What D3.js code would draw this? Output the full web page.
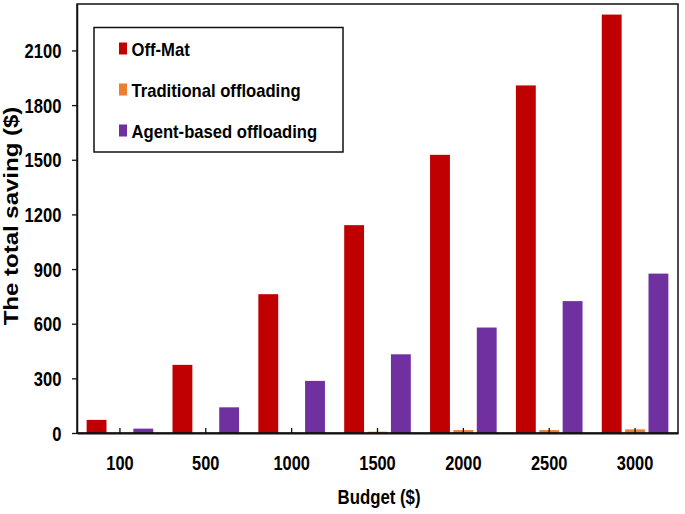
<!DOCTYPE html>
<html>
<head>
<meta charset="utf-8">
<script src="https://cdn.jsdelivr.net/npm/d3@7"></script>
<style>
  html, body { margin: 0; padding: 0; background: #fff; }
  svg text { font-family: "Liberation Sans", Arial, sans-serif; font-weight: bold; fill: #000; }
</style>
</head>
<body>
<svg id="chart" width="685" height="514"></svg>
<script>
// ---- data ----
const budgets = ["100", "500", "1000", "1500", "2000", "2500", "3000"];
const seriesNames = ["Off-Mat", "Traditional offloading", "Agent-based offloading"];
const offMat = [72, 374, 762, 1141, 1527, 1908, 2297];
const traditional = [0, 0, 0, 7, 16, 16, 20];
const agentBased = [24, 141, 286, 432, 579, 724, 875];
const yTicks = [0, 300, 600, 900, 1200, 1500, 1800, 2100];
const colors = ["#C00000", "#ED7D31", "#7030A0"];

const seriesValues = [offMat, traditional, agentBased];
const rows = budgets.map((b, i) => ({
  budget: b,
  values: seriesNames.map((s, k) => ({ series: s, value: seriesValues[k][i] }))
}));

// ---- layout ----
const plotL = 77, plotR = 678, plotT = 4, plotB = 433;
const svg = d3.select("#chart");

const x0 = d3.scaleBand().domain(budgets).range([plotL, plotR]).paddingInner(0).paddingOuter(0);
const bw = x0.bandwidth();
const groupW = 66.6;
const x1 = d3.scaleBand().domain(seriesNames)
  .range([(bw - groupW) / 2, (bw + groupW) / 2]).paddingInner(0.15).paddingOuter(0);
const y = d3.scaleLinear().domain([0, 2355]).range([plotB, plotT]);
const color = d3.scaleOrdinal().domain(seriesNames).range(colors);

// bars
const g = svg.append("g");
g.selectAll("g.grp").data(rows).join("g")
  .attr("class", "grp")
  .attr("transform", d => `translate(${x0(d.budget)},0)`)
  .selectAll("rect").data(d => d.values).join("rect")
  .attr("x", d => x1(d.series))
  .attr("width", x1.bandwidth())
  .attr("y", d => y(d.value))
  .attr("height", d => plotB - y(d.value))
  .attr("fill", d => color(d.series));

// plot frame
svg.append("rect")
  .attr("x", plotL).attr("y", plotT)
  .attr("width", plotR - plotL).attr("height", plotB - plotT)
  .attr("fill", "none").attr("stroke", "#111").attr("stroke-width", 1.5);

// y axis
const yAxis = svg.append("g")
  .attr("transform", `translate(${plotL},0)`)
  .call(d3.axisLeft(y).tickValues(yTicks).tickSizeInner(5).tickSizeOuter(0).tickFormat(d3.format("d")));
yAxis.select(".domain").attr("stroke", "#111").attr("stroke-width", 1.5);
yAxis.selectAll(".tick line").attr("stroke", "#111").attr("stroke-width", 1.3);
yAxis.selectAll(".tick text")
  .attr("x", 0).attr("dy", "0.36em")
  .attr("transform", "translate(-15.5,0) scale(0.83,1)")
  .style("font-size", "20px");

// x axis
const xAxis = svg.append("g")
  .attr("transform", `translate(0,${plotB})`)
  .call(d3.axisBottom(x0).tickSizeInner(-5).tickSizeOuter(0).tickPadding(0));
xAxis.select(".domain").attr("stroke", "#111").attr("stroke-width", 2);
xAxis.selectAll(".tick line").attr("stroke", "#111").attr("stroke-width", 1.3);
xAxis.selectAll(".tick text")
  .attr("y", 0).attr("dy", "0.71em")
  .attr("transform", "translate(0,23) scale(0.82,1)")
  .style("font-size", "20px");

// axis titles
svg.append("text")
  .attr("transform", "translate(379,504) scale(0.8,1)")
  .attr("text-anchor", "middle")
  .style("font-size", "21px")
  .text("Budget ($)");

svg.append("text")
  .attr("transform", "translate(18,216) scale(0.83,1) rotate(-90)")
  .attr("text-anchor", "middle")
  .style("font-size", "24px")
  .text("The total saving ($)");

// legend
const lg = svg.append("g");
lg.append("rect")
  .attr("x", 94).attr("y", 27.5).attr("width", 249).attr("height", 124.5)
  .attr("fill", "#fff").attr("stroke", "#111").attr("stroke-width", 1.5);
const rowY = [48.5, 89.5, 130.5];
const items = lg.selectAll("g.item").data(seriesNames).join("g")
  .attr("class", "item")
  .attr("transform", (d, i) => `translate(119,${rowY[i]})`);
items.append("rect")
  .attr("x", 0).attr("y", -6).attr("width", 8).attr("height", 12)
  .attr("fill", d => color(d));
items.append("text")
  .attr("transform", "translate(12.5,7) scale(0.9,1)")
  .style("font-size", "18.5px")
  .text(d => d);
</script>
</body>
</html>
